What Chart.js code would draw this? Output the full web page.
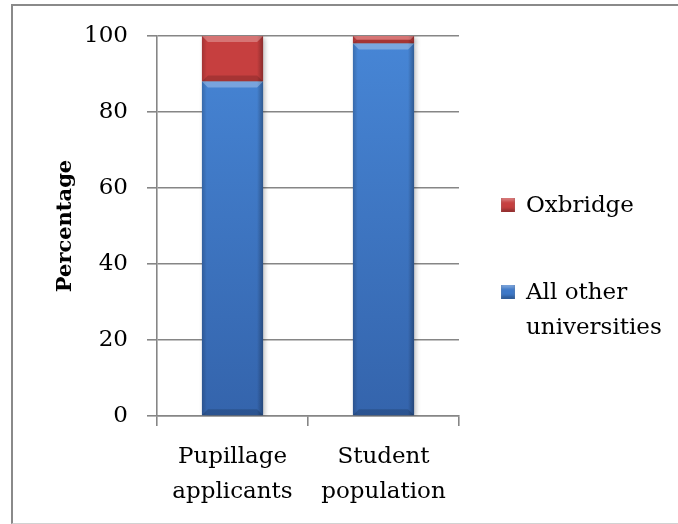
<!DOCTYPE html>
<html lang="en">
<head>
  <meta charset="UTF-8">
  <title>Oxbridge share</title>
  <script src="https://cdn.jsdelivr.net/npm/chart.js"></script>
  <style>
    * {
      box-sizing: border-box;
    }

    body {
      margin: 0;
      background: #fff;
      overflow: hidden;
    }

    .frame {
      position: absolute;
      left: 11px;
      top: 4px;
      width: 667px;
      height: 520px;
      border-left: 2px solid #8a8a8a;
      border-top: 2px solid #8a8a8a;
      border-bottom: 1px solid #d2d2d2;
    }

    .wrap {
      position: absolute;
      left: 0;
      top: 0;
      width: 678px;
      height: 524px;
    }

    .legend {
      position: absolute;
      left: 501px;
      top: 187px;
      font-family: "DejaVu Serif", serif;
      font-size: 23px;
      line-height: 35px;
      color: #000;
    }

    .legend .item {
      display: flex;
      align-items: flex-start;
      margin-bottom: 52px;
    }

    .legend .box {
      width: 14px;
      height: 14px;
      margin-top: 11px;
      margin-right: 11px;
      flex: none;
    }
  </style>
</head>
<body>
  <div class="frame"></div>
  <div class="wrap"><canvas id="chart"></canvas></div>
  <div class="legend" id="legend"></div>

  <script>
    // data
    const categories = [["Pupillage", "applicants"], ["Student", "population"]];
    const otherUnis = [88, 98];
    const oxbridge = [12, 2];
    const yTicks = [0, 20, 40, 60, 80, 100];

    const seriesNames = ["All other universities", "Oxbridge"];
    const legendText = [["All other", "universities"], ["Oxbridge"]];
    const seriesColors = ["#3d78c8", "#c63f3f"];

    const axisGrey = "#868686";
    const serif = "'DejaVu Serif', serif";

    function blueFill(ctx) {
      const area = ctx.chart.chartArea;
      if (!area) return seriesColors[0];
      const g = ctx.chart.ctx.createLinearGradient(0, area.top, 0, area.bottom);
      g.addColorStop(0, "#4786d6");
      g.addColorStop(1, "#3464ac");
      return g;
    }

    // shadow + bevel look of the old office bars
    const barLook = {
      id: "barLook",
      beforeDatasetsDraw(chart) {
        const c = chart.ctx;
        c.save();
        c.shadowColor = "rgba(0,0,0,0.3)";
        c.shadowBlur = 5;
        c.shadowOffsetX = 2;
        c.shadowOffsetY = 2;
      },
      afterDatasetsDraw(chart) {
        const c = chart.ctx;
        c.restore();
        chart.data.datasets.forEach((ds, di) => {
          const meta = chart.getDatasetMeta(di);
          meta.data.forEach(bar => {
            const p = bar.getProps(["x", "y", "base", "width"], true);
            const l = p.x - p.width / 2, r = p.x + p.width / 2;
            const t = Math.min(p.y, p.base), b = Math.max(p.y, p.base);
            const bev = Math.min(6, (b - t) / 2);
            c.save();
            // sides
            const g = c.createLinearGradient(l, 0, r, 0);
            g.addColorStop(0, "rgba(0,0,0,0.18)");
            g.addColorStop(0.08, "rgba(0,0,0,0)");
            g.addColorStop(0.9, "rgba(0,0,0,0)");
            g.addColorStop(1, "rgba(0,0,0,0.3)");
            c.fillStyle = g;
            c.fillRect(l, t, r - l, b - t);
            // top bevel
            c.fillStyle = "rgba(255,255,255,0.28)";
            c.beginPath();
            c.moveTo(l, t); c.lineTo(r, t); c.lineTo(r - bev, t + bev); c.lineTo(l + bev, t + bev);
            c.closePath(); c.fill();
            // bottom bevel
            c.fillStyle = "rgba(0,0,0,0.16)";
            c.beginPath();
            c.moveTo(l, b); c.lineTo(r, b); c.lineTo(r - bev, b - bev); c.lineTo(l + bev, b - bev);
            c.closePath(); c.fill();
            c.restore();
          });
        });
      }
    };

    new Chart(document.getElementById("chart"), {
      type: "bar",
      data: {
        labels: categories,
        datasets: [
          { label: seriesNames[0], data: otherUnis, backgroundColor: blueFill, borderWidth: 0 },
          { label: seriesNames[1], data: oxbridge, backgroundColor: seriesColors[1], borderWidth: 0 }
        ]
      },
      options: {
        responsive: true,
        maintainAspectRatio: false,
        animation: false,
        layout: { padding: { top: 36, right: 219, bottom: 0, left: 0 } },
        barPercentage: 0.405,
        categoryPercentage: 1,
        plugins: {
          legend: { display: false },
          tooltip: { enabled: false }
        },
        scales: {
          x: {
            stacked: true,
            afterFit: s => { s.height = 108; },
            grid: {
              offset: true,
              drawOnChartArea: false,
              drawTicks: true,
              tickLength: 10,
              color: axisGrey,
              lineWidth: 1.6
            },
            border: { color: axisGrey, width: 1.6 },
            ticks: {
              color: "#000",
              padding: 14,
              font: { family: serif, size: 23, lineHeight: 1.52 }
            }
          },
          y: {
            stacked: true,
            min: 0,
            max: 100,
            afterFit: s => { s.width = 157; },
            afterBuildTicks: s => { s.ticks = yTicks.map(v => ({ value: v })); },
            grid: {
              color: axisGrey,
              lineWidth: 1.6,
              tickLength: 10
            },
            border: { color: axisGrey, width: 1.6 },
            ticks: {
              color: "#000",
              padding: 19,
              font: { family: serif, size: 23 }
            },
            title: {
              display: true,
              text: "Percentage",
              color: "#000",
              padding: { top: 53, bottom: 0 },
              font: { family: serif, size: 21, weight: "bold" }
            }
          }
        }
      },
      plugins: [barLook]
    });

    // legend on the right, top series first
    const legend = document.getElementById("legend");
    [1, 0].forEach(i => {
      const item = document.createElement("div");
      item.className = "item";
      const box = document.createElement("div");
      box.className = "box";
      box.style.background = seriesColors[i];
      box.style.boxShadow = "inset 0 -3px 3px rgba(0,0,0,0.25), inset 0 3px 3px rgba(255,255,255,0.3)";
      const txt = document.createElement("div");
      txt.innerHTML = legendText[i].join("<br>");
      item.appendChild(box);
      item.appendChild(txt);
      legend.appendChild(item);
    });
  </script>
</body>
</html>
